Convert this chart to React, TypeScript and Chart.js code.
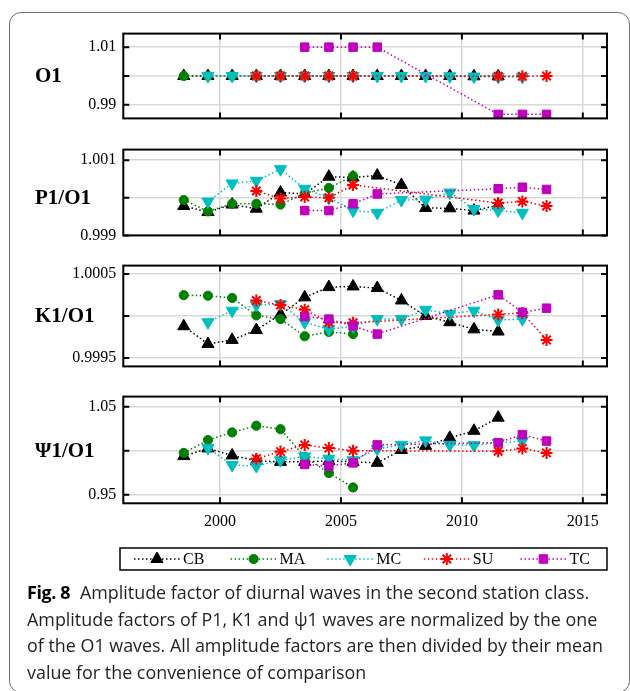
import React, { useEffect, useRef } from 'react';
import { Chart, registerables } from 'chart.js';
import { drawPoint } from 'chart.js/helpers';

Chart.register(...registerables);

// ---------- data ----------
const X_MIN = 1996;
const X_MAX = 2016;
const YEAR_TICKS = [2000, 2005, 2010, 2015];
const YEAR_LABELS = ['2000', '2005', '2010', '2015'];

const STATIONS = ['CB', 'MA', 'MC', 'SU', 'TC'];

const CB_YEARS = [1998.5, 1999.5, 2000.5, 2001.5, 2002.5, 2003.5, 2004.5, 2005.5, 2006.5, 2007.5, 2008.5, 2009.5, 2010.5, 2011.5];
const MA_YEARS = [1998.5, 1999.5, 2000.5, 2001.5, 2002.5, 2003.5, 2004.5, 2005.5];
const MC_YEARS = [1999.5, 2000.5, 2001.5, 2002.5, 2003.5, 2004.5, 2005.5, 2006.5, 2007.5, 2008.5, 2009.5, 2010.5, 2011.5, 2012.5];
const SU_YEARS = [2001.5, 2002.5, 2003.5, 2004.5, 2005.5, 2011.5, 2012.5, 2013.5];
const TC_YEARS = [2003.5, 2004.5, 2005.5, 2006.5, 2011.5, 2012.5, 2013.5];
const STATION_YEARS = [CB_YEARS, MA_YEARS, MC_YEARS, SU_YEARS, TC_YEARS];

// O1
const O1_CB = [1, 1, 1, 1, 1, 1, 1, 1, 1, 1, 1, 1, 0.9999, 0.9999];
const O1_MA = [1, 1, 1, 1, 1, 1, 1, 1];
const O1_MC = [1, 1, 1, 1, 1, 1, 1, 1, 1, 1, 0.9999, 0.9998, 0.9997, 0.9997];
const O1_SU = [1, 1, 1, 1, 1, 0.9999, 0.9999, 1];
const O1_TC = [1.01, 1.01, 1.01, 1.01, 0.9867, 0.9867, 0.9867];

// P1/O1
const P1_CB = [0.99978, 0.99962, 0.99982, 0.99971, 1.00014, 1.0001, 1.00056, 1.00054, 1.00059, 1.00034, 0.99973, 0.99972, 0.99966, 0.9998];
const P1_MA = [0.99994, 0.99964, 0.99984, 0.99984, 0.99982, 1.00012, 1.00026, 1.00058];
const P1_MC = [0.9999, 1.00038, 1.00045, 1.00076, 1.00024, 1.0, 0.99966, 0.9996, 0.99994, 0.99995, 1.00014, 0.9997, 0.99966, 0.9996];
const P1_SU = [1.00018, 0.99998, 1.00002, 1.0, 1.00034, 0.99986, 0.9999, 0.99978];
const P1_TC = [0.99966, 0.99966, 0.99984, 1.0001, 1.00024, 1.00028, 1.00022];

// K1/O1
const K1_CB = [0.999878, 0.999667, 0.999715, 0.999833, 1.000019, 1.000222, 1.000344, 1.000352, 1.000333, 1.000185, 1.0, 0.999926, 0.999841, 0.999815];
const K1_MA = [1.000248, 1.000241, 1.000215, 1.000007, 0.999963, 0.999759, 0.999811, 0.999785];
const K1_MC = [0.999926, 1.000063, 1.00013, 1.000141, 0.999926, 0.999841, 0.999878, 0.999963, 0.999963, 1.000074, 1.000026, 1.000063, 0.999952, 0.999963];
const K1_SU = [1.000185, 1.00013, 1.000074, 0.999926, 0.999919, 1.000019, 1.000037, 0.999715];
const K1_TC = [0.999993, 0.999963, 0.999881, 0.999785, 1.000252, 1.000044, 1.000093];

// Psi1/O1
const PSI1_CB = [0.99382, 1.00255, 0.99455, 0.9885, 0.98727, 0.98727, 0.98836, 0.98727, 0.98618, 1.00073, 1.00545, 1.01455, 1.02255, 1.03745];
const PSI1_MA = [0.99745, 1.012, 1.02073, 1.02836, 1.02436, 0.993, 0.97455, 0.95818];
const PSI1_MC = [1.00291, 0.98364, 0.98255, 0.98909, 0.99345, 0.99091, 0.98909, 1.00182, 1.00655, 1.01164, 1.00655, 1.00618, 1.00873, 1.01091];
const PSI1_SU = [0.99091, 0.99891, 1.00655, 1.00291, 1.0, 0.99927, 1.00255, 0.99745];
const PSI1_TC = [0.98436, 0.98255, 0.98618, 1.00655, 1.00909, 1.01818, 1.01091];

const PANEL_TITLES = ['O1', 'P1/O1', 'K1/O1', 'Ψ1/O1'];
const PANEL_SERIES = [
  [O1_CB, O1_MA, O1_MC, O1_SU, O1_TC],
  [P1_CB, P1_MA, P1_MC, P1_SU, P1_TC],
  [K1_CB, K1_MA, K1_MC, K1_SU, K1_TC],
  [PSI1_CB, PSI1_MA, PSI1_MC, PSI1_SU, PSI1_TC],
];
const Y_MIN = [0.9853, 0.999, 0.9994, 0.9402];
const Y_MAX = [1.0147, 1.00128, 1.0006, 1.0614];
const Y_TICKS = [
  [0.99, 1.0, 1.01],
  [0.999, 1.0, 1.001],
  [0.9995, 1.0, 1.0005],
  [0.95, 1.0, 1.05],
];
const Y_TICK_LABELS = [
  ['0.99', '', '1.01'],
  ['0.999', '', '1.001'],
  ['0.9995', '', '1.0005'],
  ['0.95', '', '1.05'],
];

// ---------- styling ----------
const COLORS = ['#000000', '#008000', '#00bfbf', '#ff0000', '#bf00bf'];
const MARKERS = ['triangle', 'circle', 'triangle', 'star', 'rect'];
const MARKER_ROTATION = [0, 0, 180, 0, 0];
const MARKER_RADIUS = [7, 4.6, 7, 6, 6];
const MARKER_BORDER = [1, 1, 1, 2, 1];

const SERIF = "'Liberation Serif', 'Times New Roman', serif";
const GRID_COLOR = '#d9d9d9';
const TICK_LEN = 6;

const AREA_LEFT = 123.3;
const AREA_RIGHT = 607;
const AREA_Y = [
  [29, 122.5],
  [145, 240],
  [261, 371],
  [392.3, 503.3],
];
const PAD = 12;
const LAST_BOTTOM = 590;
const X_LABEL_H = 30;

function geometry(i: number) {
  const [top, bottom] = AREA_Y[i];
  const canvasTop = Math.floor(top) - PAD;
  const canvasBottom = i === 3 ? LAST_BOTTOM : Math.ceil(bottom) + PAD;
  const height = canvasBottom - canvasTop;
  const axisH = i === 3 ? X_LABEL_H : 0;
  return {
    canvasTop,
    height,
    padTop: top - canvasTop,
    padBottom: canvasBottom - bottom - axisH,
    axisH,
  };
}

const panelDecor = {
  id: 'panelDecor',
  afterDatasetsDraw(chart: any, _args: any, opts: any) {
    const { ctx, chartArea: a, scales } = chart;
    ctx.save();
    // frame
    ctx.strokeStyle = '#000';
    ctx.lineWidth = 2;
    ctx.setLineDash([]);
    ctx.strokeRect(a.left, a.top, a.right - a.left, a.bottom - a.top);
    // inward tick marks on all four sides
    ctx.beginPath();
    for (const t of scales.x.ticks) {
      const px = scales.x.getPixelForValue(t.value);
      ctx.moveTo(px, a.top);
      ctx.lineTo(px, a.top + TICK_LEN);
      ctx.moveTo(px, a.bottom);
      ctx.lineTo(px, a.bottom - TICK_LEN);
    }
    for (const t of scales.y.ticks) {
      const py = scales.y.getPixelForValue(t.value);
      ctx.moveTo(a.left, py);
      ctx.lineTo(a.left + TICK_LEN, py);
      ctx.moveTo(a.right, py);
      ctx.lineTo(a.right - TICK_LEN, py);
    }
    ctx.stroke();

    // panel title
    ctx.fillStyle = '#000';
    ctx.font = `bold 21px ${SERIF}`;
    ctx.textAlign = 'left';
    ctx.textBaseline = 'middle';
    ctx.fillText(opts.title, 35, scales.y.getPixelForValue(1) + 1);

    // legend
    if (opts.legend) {
      const top = 548 - opts.canvasTop;
      const bottom = 570 - opts.canvasTop;
      const mid = (top + bottom) / 2;
      ctx.lineWidth = 1.5;
      ctx.strokeStyle = '#000';
      ctx.strokeRect(120, top, AREA_RIGHT - 120, bottom - top);
      chart.data.datasets.forEach((ds: any, s: number) => {
        const x0 = 134 + s * 96.6;
        ctx.save();
        ctx.strokeStyle = ds.borderColor;
        ctx.lineWidth = 1.5;
        ctx.setLineDash([1.5, 2.5]);
        ctx.beginPath();
        ctx.moveTo(x0, mid);
        ctx.lineTo(x0 + 46, mid);
        ctx.stroke();
        ctx.setLineDash([]);
        ctx.fillStyle = ds.pointBackgroundColor;
        ctx.strokeStyle = ds.pointBorderColor;
        ctx.lineWidth = ds.pointBorderWidth;
        drawPoint(ctx, {
          pointStyle: ds.pointStyle,
          rotation: ds.pointRotation,
          radius: ds.pointRadius,
          borderWidth: ds.pointBorderWidth,
        }, x0 + 23, mid);
        ctx.restore();
        ctx.fillStyle = '#000';
        ctx.font = `16px ${SERIF}`;
        ctx.textAlign = 'left';
        ctx.textBaseline = 'middle';
        ctx.fillText(ds.label, x0 + 49, mid + 1);
      });
    }
    ctx.restore();
  },
};

function buildConfig(i: number) {
  const g = geometry(i);
  const datasets = STATIONS.map((name, s) => ({
    label: name,
    data: PANEL_SERIES[i][s].map((v, k) => ({ x: STATION_YEARS[s][k], y: v })),
    borderColor: COLORS[s],
    backgroundColor: COLORS[s],
    pointBackgroundColor: COLORS[s],
    pointBorderColor: COLORS[s],
    pointBorderWidth: MARKER_BORDER[s],
    pointStyle: MARKERS[s],
    pointRotation: MARKER_ROTATION[s],
    pointRadius: MARKER_RADIUS[s],
    borderWidth: 1.5,
    borderDash: [1.5, 2.5],
    tension: 0,
    fill: false,
    clip: false,
    order: STATIONS.length - s,
  }));
  const tickFont = { family: SERIF, size: 16 };
  return {
    type: 'line',
    data: { datasets },
    plugins: [panelDecor],
    options: {
      responsive: false,
      animation: false,
      devicePixelRatio: 1,
      layout: {
        padding: { left: 0, right: 630 - AREA_RIGHT, top: g.padTop, bottom: g.padBottom },
      },
      plugins: {
        legend: { display: false },
        tooltip: { enabled: false },
        panelDecor: { title: PANEL_TITLES[i], legend: i === 3, canvasTop: g.canvasTop },
      },
      scales: {
        x: {
          type: 'linear',
          min: X_MIN,
          max: X_MAX,
          afterBuildTicks: (scale: any) => {
            scale.ticks = YEAR_TICKS.map((v) => ({ value: v }));
          },
          afterFit: (scale: any) => {
            scale.height = g.axisH;
          },
          ticks: {
            display: i === 3,
            autoSkip: false,
            maxRotation: 0,
            padding: 9,
            color: '#000',
            font: tickFont,
            callback: (_v: any, k: number) => YEAR_LABELS[k],
          },
          grid: { color: GRID_COLOR, lineWidth: 1.5, drawTicks: false },
          border: { display: false },
        },
        y: {
          type: 'linear',
          min: Y_MIN[i],
          max: Y_MAX[i],
          afterBuildTicks: (scale: any) => {
            scale.ticks = Y_TICKS[i].map((v) => ({ value: v }));
          },
          afterFit: (scale: any) => {
            scale.width = AREA_LEFT;
          },
          ticks: {
            autoSkip: false,
            padding: 7,
            color: '#000',
            font: tickFont,
            callback: (_v: any, k: number) => Y_TICK_LABELS[i][k],
          },
          grid: { color: GRID_COLOR, lineWidth: 1.5, drawTicks: false },
          border: { display: false },
        },
      },
    },
  };
}

function Panel({ index }: { index: number }) {
  const ref = useRef<HTMLCanvasElement>(null);
  const g = geometry(index);
  useEffect(() => {
    const chart = new Chart(ref.current as HTMLCanvasElement, buildConfig(index) as any);
    return () => chart.destroy();
  }, [index]);
  return (
    <canvas
      ref={ref}
      width={630}
      height={g.height}
      style={{ position: 'absolute', left: 0, top: g.canvasTop, width: 630, height: g.height }}
    />
  );
}

const CAPTION_LABEL = 'Fig. 8';
const CAPTION_LINES = [
  'Amplitude factor of diurnal waves in the second station class.',
  'Amplitude factors of P1, K1 and ψ1 waves are normalized by the one',
  'of the O1 waves. All amplitude factors are then divided by their mean',
  'value for the convenience of comparison',
];

export default function App() {
  return (
    <div
      style={{
        position: 'absolute',
        left: 0,
        top: 0,
        width: 630,
        height: 691,
        overflow: 'hidden',
        background: '#fff',
      }}
    >
      <div
        style={{
          position: 'absolute',
          left: 9,
          top: 12,
          width: 621,
          height: 681,
          border: '1.5px solid #6f6f6f',
          borderRadius: 12,
          boxSizing: 'border-box',
        }}
      />
      {PANEL_TITLES.map((_, i) => (
        <Panel key={i} index={i} />
      ))}
      <div
        style={{
          position: 'absolute',
          left: 27,
          top: 579,
          fontFamily: "'Open Sans', 'Noto Sans', sans-serif",
          fontSize: 17.9,
          lineHeight: '26.5px',
          color: '#231f20',
          whiteSpace: 'nowrap',
        }}
      >
        {CAPTION_LINES.map((line, k) => (
          <div key={k}>
            {k === 0 && (
              <span style={{ fontWeight: 700, color: '#000', marginRight: 10, letterSpacing: -0.4 }}>
                {CAPTION_LABEL}
              </span>
            )}
            {line}
          </div>
        ))}
      </div>
    </div>
  );
}
